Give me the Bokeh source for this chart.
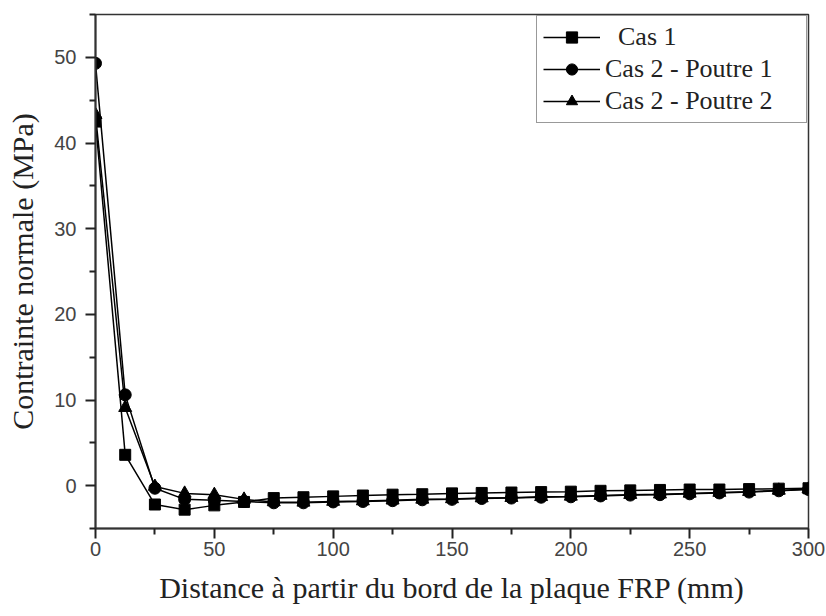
from bokeh.plotting import figure
from bokeh.embed import file_html
from bokeh.resources import INLINE
from bokeh.models import Range1d, FixedTicker, Legend, LegendItem

distance = [0, 12.5, 25, 37.5, 50, 62.5, 75, 87.5, 100, 112.5, 125, 137.5, 150,
            162.5, 175, 187.5, 200, 212.5, 225, 237.5, 250, 262.5, 275, 287.5, 300]
cas1 = [42.5, 3.6, -2.2, -2.8, -2.3, -1.9, -1.45, -1.35, -1.25, -1.15, -1.05, -1.0, -0.9,
        -0.85, -0.8, -0.75, -0.7, -0.6, -0.55, -0.5, -0.45, -0.45, -0.4, -0.35, -0.3]
cas2_p1 = [49.3, 10.6, -0.3, -1.6, -1.7, -1.85, -2.0, -2.0, -1.9, -1.85, -1.75, -1.65, -1.6,
           -1.5, -1.45, -1.35, -1.3, -1.2, -1.1, -1.05, -0.95, -0.85, -0.75, -0.6, -0.45]
cas2_p2 = [43.3, 9.1, -0.1, -0.9, -1.05, -1.6, -1.9, -1.95, -1.85, -1.8, -1.7, -1.6, -1.55,
           -1.45, -1.4, -1.3, -1.25, -1.15, -1.05, -1.0, -0.9, -0.8, -0.7, -0.55, -0.4]
series_names = ["Cas 1", "Cas 2 - Poutre 1", "Cas 2 - Poutre 2"]
x_ticks = [0, 50, 100, 150, 200, 250, 300]
x_minor = [25, 75, 125, 175, 225, 275]
y_ticks = [0, 10, 20, 30, 40, 50]
y_minor = [-5, 5, 15, 25, 35, 45, 55]

p = figure(width=826, height=616, output_backend="svg", toolbar_location=None,
           x_range=Range1d(0, 300), y_range=Range1d(-5, 55))
p.min_border_left = 95
p.min_border_right = 18
p.min_border_top = 14
p.min_border_bottom = 88
p.xgrid.grid_line_color = None
p.ygrid.grid_line_color = None
p.outline_line_color = "#333333"
p.outline_line_width = 1.5

serif = "Liberation Serif"
sans = "Liberation Sans"

p.xaxis[0].ticker = FixedTicker(ticks=x_ticks, minor_ticks=x_minor)
p.yaxis[0].ticker = FixedTicker(ticks=y_ticks, minor_ticks=y_minor)
for ax in [p.xaxis[0], p.yaxis[0]]:
    ax.axis_line_color = "#333333"
    ax.axis_line_width = 2
    ax.major_tick_line_color = "#222222"
    ax.minor_tick_line_color = "#222222"
    ax.major_tick_line_width = 2
    ax.minor_tick_line_width = 2
    ax.major_tick_out = 10
    ax.major_tick_in = 0
    ax.minor_tick_out = 6
    ax.minor_tick_in = 0
    ax.major_label_text_font = sans
    ax.major_label_text_font_size = "20px"
    ax.major_label_text_color = "#444444"
    ax.axis_label_text_font = serif
    ax.axis_label_text_font_size = "30px"
    ax.axis_label_text_font_style = "normal"
    ax.axis_label_text_color = "#222222"

p.xaxis[0].axis_label = "Distance à partir du bord de la plaque FRP (mm)"
p.yaxis[0].axis_label = "Contrainte normale (MPa)"
p.xaxis[0].major_label_standoff = 3
p.xaxis[0].axis_label_standoff = 12
p.yaxis[0].major_label_standoff = 9
p.yaxis[0].axis_label_standoff = 12

col = "black"
l1 = p.line(distance, cas1, line_color=col, line_width=1.5)
m1 = p.scatter(distance, cas1, marker="square", size=11, fill_color=col, line_color=col)
l2 = p.line(distance, cas2_p1, line_color=col, line_width=1.5)
m2 = p.scatter(distance, cas2_p1, marker="circle", size=12, fill_color=col, line_color=col)
l3 = p.line(distance, cas2_p2, line_color=col, line_width=1.5)
m3 = p.scatter(distance, cas2_p2, marker="triangle", size=13, fill_color=col, line_color=col)

legend = Legend(items=[
    LegendItem(label="  " + series_names[0], renderers=[l1, m1]),
    LegendItem(label=series_names[1], renderers=[l2, m2]),
    LegendItem(label=series_names[2], renderers=[l3, m3]),
], location="top_right")
legend.margin = 1
legend.padding = 6
legend.spacing = 2
legend.glyph_width = 57
legend.glyph_height = 28
legend.label_standoff = 5
legend.label_height = 28
legend.label_width = 195
legend.label_text_font = serif
legend.label_text_font_size = "26px"
legend.label_text_color = "#222222"
legend.border_line_color = "#333333"
legend.border_line_width = 1.5
legend.background_fill_alpha = 1
p.add_layout(legend)

open("out.html", "w").write(file_html(p, INLINE))
